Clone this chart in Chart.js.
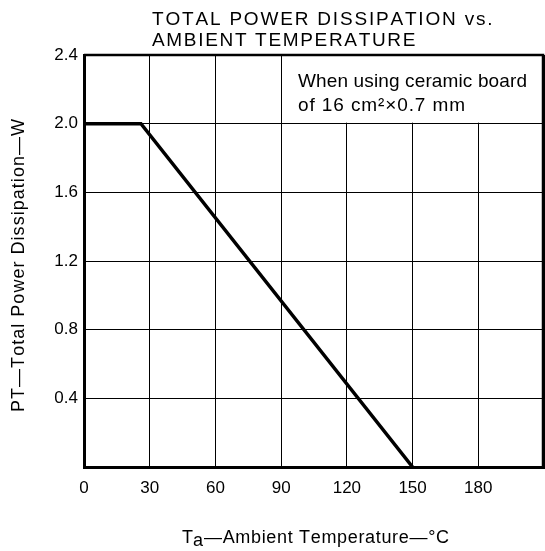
<!DOCTYPE html>
<html>
<head>
<meta charset="utf-8">
<script src="https://cdn.jsdelivr.net/npm/chart.js@4"></script>
<style>
  html, body { margin: 0; padding: 0; background: #fff; }
  #wrap { width: 545px; height: 551px; }
</style>
</head>
<body>
<div id="wrap"><canvas id="chartPower" width="545" height="551"></canvas></div>
<script>
// data
const ambientTemp = [0, 26, 150];
const powerDiss = [2.0, 2.0, 0];
const xTicks = [0, 30, 60, 90, 120, 150, 180];
const yTicks = [0.4, 0.8, 1.2, 1.6, 2.0, 2.4];
const titleLines = ['TOTAL POWER DISSIPATION vs.', 'AMBIENT TEMPERATURE'];
const noteLines = ['When using ceramic board', 'of 16 cm\u00B2\u00D70.7 mm'];

const FONT = '"Liberation Sans", Arial, Helvetica, sans-serif';

// draw text stretched/squeezed by letter spacing to a given width
function drawFit(ctx, text, x, y, width) {
    const w = ctx.measureText(text).width;
    const gap = text.length > 1 ? (width - w) / (text.length - 1) : 0;
    let cx = x;
    for (const ch of text) {
        ctx.fillText(ch, cx, y);
        cx += ctx.measureText(ch).width + gap;
    }
}

const decor = {
    id: 'decor',
    beforeDatasetsDraw(chart) {
        const { ctx, chartArea: a, scales: { x, y } } = chart;
        // blank box behind the note
        ctx.save();
        ctx.fillStyle = '#fff';
        const bx = x.getPixelForValue(90) + 1;
        const by = y.getPixelForValue(2.0) - 1;
        ctx.fillRect(bx, a.top + 1, a.right - bx - 1, by - a.top - 1);
        ctx.fillStyle = '#000';
        ctx.textBaseline = 'alphabetic';
        ctx.font = '19px ' + FONT;
        drawFit(ctx, noteLines[0], 298, 87, 229);
        drawFit(ctx, noteLines[1], 298, 111, 167);
        ctx.restore();
    },
    afterDraw(chart) {
        const { ctx, chartArea: a } = chart;
        ctx.save();
        // frame top and right
        ctx.strokeStyle = '#000';
        ctx.lineWidth = 2.5;
        ctx.beginPath();
        ctx.moveTo(a.left, a.top);
        ctx.lineTo(a.right - 1, a.top);
        ctx.lineTo(a.right - 1, a.bottom);
        ctx.stroke();

        ctx.fillStyle = '#000';
        ctx.textBaseline = 'alphabetic';
        // title
        ctx.font = '19px ' + FONT;
        drawFit(ctx, titleLines[0], 152, 25, 336);
        drawFit(ctx, titleLines[1], 152, 46, 262);

        // x axis title with subscript
        ctx.font = '18px ' + FONT;
        ctx.fillText('T', 182, 543);
        const tw = ctx.measureText('T').width;
        ctx.fillText('a', 182 + tw, 546);
        const aw = ctx.measureText('a').width;
        drawFit(ctx, '\u2014Ambient Temperature\u2014\u00B0C', 182 + tw + aw + 1, 543, 447 - (182 + tw + aw + 1));

        // y axis title
        ctx.translate(24, 412);
        ctx.rotate(-Math.PI / 2);
        drawFit(ctx, 'PT\u2014Total Power Dissipation\u2014W', 0, 0, 291);
        ctx.restore();
    }
};

const ctx = document.getElementById('chartPower').getContext('2d');
const chartPower = new Chart(ctx, {
    type: 'line',
    data: {
        datasets: [{
            data: ambientTemp.map((t, i) => ({ x: t, y: powerDiss[i] })),
            borderColor: '#000',
            borderWidth: 3.5,
            pointRadius: 0,
            tension: 0
        }]
    },
    options: {
        responsive: false,
        animation: false,
        layout: { padding: { top: 55, right: 1, left: 0, bottom: 0 } },
        plugins: {
            legend: { display: false },
            tooltip: { enabled: false }
        },
        scales: {
            x: {
                type: 'linear',
                min: 0,
                max: 210,
                afterFit: s => { s.height = 84; s.paddingLeft = 0; s.paddingRight = 0; },
                afterBuildTicks: s => { s.ticks = xTicks.concat([210]).map(v => ({ value: v })); },
                ticks: {
                    callback: v => xTicks.includes(v) ? String(v) : '',
                    color: '#000',
                    font: { family: FONT, size: 17 },
                    padding: 11,
                    maxRotation: 0
                },
                grid: { color: '#000', lineWidth: 1, drawTicks: false },
                border: { color: '#000', width: 3 }
            },
            y: {
                min: 0,
                max: 2.4,
                afterFit: s => { s.width = 84; s.paddingTop = 0; s.paddingBottom = 0; },
                afterBuildTicks: s => { s.ticks = [0].concat(yTicks).map(v => ({ value: v })); },
                ticks: {
                    callback: v => yTicks.includes(v) ? v.toFixed(1) : '',
                    color: '#000',
                    font: { family: FONT, size: 17 },
                    padding: 6
                },
                grid: { color: '#000', lineWidth: 1, drawTicks: false },
                border: { color: '#000', width: 3 }
            }
        }
    },
    plugins: [decor]
});
</script>
</body>
</html>
